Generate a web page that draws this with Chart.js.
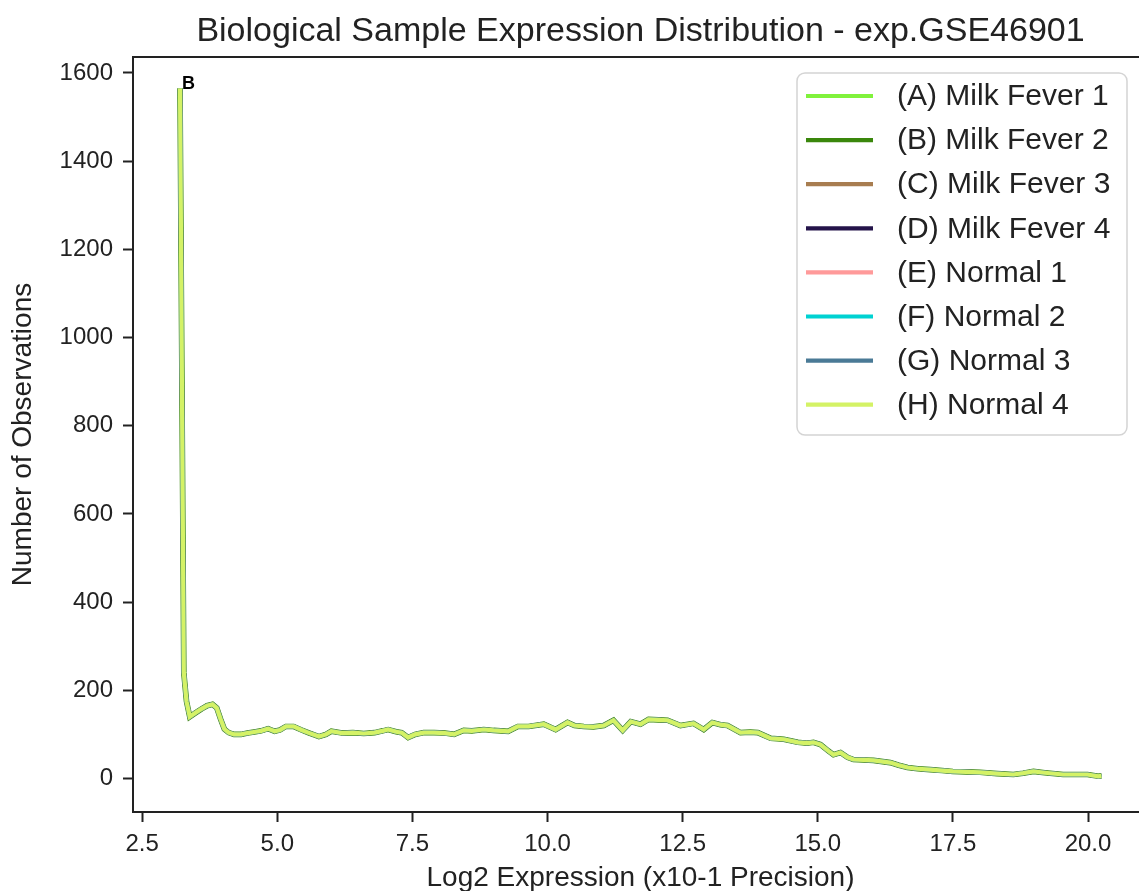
<!DOCTYPE html>
<html>
<head>
<meta charset="utf-8">
<script src="https://cdn.jsdelivr.net/npm/chart.js@4.4.1/dist/chart.umd.min.js"></script>
<style>
  html, body { margin: 0; padding: 0; background: #fff; overflow: hidden; }
  #wrap { width: 1150px; height: 891px; }
</style>
</head>
<body>
<div id="wrap"><canvas id="c" width="1150" height="891"></canvas></div>
<script>
// ---- data ----
const chartTitle = "Biological Sample Expression Distribution - exp.GSE46901";
const xAxisLabel = "Log2 Expression (x10-1 Precision)";
const yAxisLabel = "Number of Observations";

const seriesLabels = [
  "(A) Milk Fever 1", "(B) Milk Fever 2", "(C) Milk Fever 3", "(D) Milk Fever 4",
  "(E) Normal 1", "(F) Normal 2", "(G) Normal 3", "(H) Normal 4"
];
const seriesColors = [
  "#80f23c", "#3a870c", "#a87d50", "#24144a",
  "#ff9a9a", "#00d2d2", "#4a7a96", "#d4f266"
];

const xTickValues = [2.5, 5.0, 7.5, 10.0, 12.5, 15.0, 17.5, 20.0];
const yTickValues = [0, 200, 400, 600, 800, 1000, 1200, 1400, 1600];

// Log2 expression bins (x) and observation counts (y); all eight curves overlap in the picture
const expressionBins = [
  3.20, 3.27, 3.32, 3.38, 3.50, 3.60, 3.70, 3.80, 3.88, 3.95,
  4.02, 4.10, 4.20, 4.33, 4.45, 4.60, 4.70, 4.83, 4.95, 5.05,
  5.16, 5.30, 5.45, 5.57, 5.77, 5.90, 6.00, 6.20, 6.40, 6.60,
  6.80, 6.95, 7.05, 7.20, 7.30, 7.42, 7.55, 7.71, 7.90, 8.10,
  8.27, 8.45, 8.60, 8.82, 9.00, 9.27, 9.45, 9.65, 9.93, 10.15,
  10.37, 10.50, 10.67, 10.85, 11.04, 11.22, 11.39, 11.54, 11.72, 11.87,
  12.05, 12.22, 12.46, 12.70, 12.89, 13.05, 13.20, 13.33, 13.57, 13.75,
  13.89, 14.13, 14.37, 14.63, 14.80, 14.92, 15.05, 15.20, 15.29, 15.42,
  15.55, 15.66, 15.85, 16.03, 16.34, 16.50, 16.66, 16.85, 17.08, 17.30,
  17.50, 17.75, 18.00, 18.32, 18.62, 18.80, 18.99, 19.20, 19.54, 19.75,
  19.99, 20.19, 20.25
];
const observationCounts = [
  1565, 240, 175, 140, 150, 158, 165, 168, 160, 135,
  112, 104, 100, 100, 103, 106, 108, 113, 107, 110,
  118, 118, 110, 104, 95, 100, 107, 103, 104, 102,
  104, 108, 111, 106, 104, 93, 100, 104, 104, 103,
  100, 109, 108, 111, 109, 107, 118, 118, 123, 111,
  127, 120, 118, 117, 120, 132, 109, 129, 123, 134,
  133, 132, 120, 125, 111, 127, 122, 120, 104, 105,
  104, 91, 89, 82, 80, 82, 77, 62, 54, 59,
  48, 43, 42, 41, 36, 30, 25, 22, 20, 18,
  16, 15, 14, 11, 9, 12, 16, 13, 9, 9,
  9, 5, 6
];
const peakLetter = "B";

// ---- styling ----
const FONT = "'Liberation Sans', Arial, Helvetica, sans-serif";
const INK = "#222222";

const points = expressionBins.map((x, i) => ({ x: x, y: observationCounts[i] }));

const datasets = seriesLabels.map((label, i) => ({
  label: label,
  data: points,
  borderColor: seriesColors[i],
  backgroundColor: seriesColors[i],
  borderWidth: (i === 1) ? 5.6 : 4.2,
  pointRadius: 0,
  tension: 0,
  fill: false,
  order: seriesLabels.length - 1 - i
}));

const decorPlugin = {
  id: 'decor',
  afterDraw(chart) {
    const ctx = chart.ctx;
    const a = chart.chartArea;
    const xs = chart.scales.x, ys = chart.scales.y;
    ctx.save();
    // full frame (top and right spines)
    ctx.strokeStyle = INK;
    ctx.lineWidth = 2;
    ctx.strokeRect(a.left, a.top, a.right - a.left, a.bottom - a.top);

    // title
    ctx.fillStyle = INK;
    ctx.font = "34px " + FONT;
    ctx.textAlign = 'center';
    ctx.textBaseline = 'alphabetic';
    ctx.fillText(chartTitle, (a.left + a.right) / 2, 41);

    // peak annotation
    const px = xs.getPixelForValue(expressionBins[0]);
    const py = ys.getPixelForValue(observationCounts[0]);
    ctx.font = "bold 18px " + FONT;
    ctx.textAlign = 'left';
    ctx.fillStyle = '#000';
    ctx.fillText(peakLetter, px + 2, py + 1);

    // legend box (upper right, inside axes)
    const bx = 797, by = 73, bw = 330, bh = 362, r = 8;
    ctx.beginPath();
    ctx.moveTo(bx + r, by);
    ctx.arcTo(bx + bw, by, bx + bw, by + bh, r);
    ctx.arcTo(bx + bw, by + bh, bx, by + bh, r);
    ctx.arcTo(bx, by + bh, bx, by, r);
    ctx.arcTo(bx, by, bx + bw, by, r);
    ctx.closePath();
    ctx.fillStyle = 'rgba(255,255,255,0.85)';
    ctx.fill();
    ctx.strokeStyle = '#d4d4d4';
    ctx.lineWidth = 1.5;
    ctx.stroke();

    ctx.font = "30px " + FONT;
    ctx.textBaseline = 'middle';
    chart.data.datasets.forEach((ds, i) => {
      const yy = 96 + i * 44.1;
      ctx.strokeStyle = ds.borderColor;
      ctx.lineWidth = 4.2;
      ctx.beginPath();
      ctx.moveTo(806, yy);
      ctx.lineTo(873, yy);
      ctx.stroke();
      ctx.fillStyle = INK;
      ctx.fillText(ds.label, 897, yy + 1);
    });
    ctx.restore();
  }
};

new Chart(document.getElementById('c'), {
  type: 'line',
  data: { datasets: datasets },
  plugins: [decorPlugin],
  options: {
    responsive: false,
    animation: false,
    devicePixelRatio: 1,
    layout: { padding: { top: 57, right: 2, left: 0, bottom: 0 } },
    plugins: { legend: { display: false }, title: { display: false }, tooltip: { enabled: false } },
    scales: {
      x: {
        type: 'linear',
        min: 2.33,
        max: 21.11,
        afterFit: s => { s.height = 79; },
        afterBuildTicks: s => { s.ticks = xTickValues.map(v => ({ value: v })); },
        grid: { drawOnChartArea: false, drawTicks: true, tickLength: 10, tickWidth: 2, tickColor: INK },
        border: { display: true, color: INK, width: 2 },
        ticks: {
          color: INK, padding: 8, maxRotation: 0, autoSkip: false,
          font: { family: FONT, size: 24 },
          callback: v => Number(v).toFixed(1)
        },
        title: { display: true, text: xAxisLabel, color: INK, font: { family: FONT, size: 28 }, padding: { top: 0, bottom: -4 } }
      },
      y: {
        type: 'linear',
        min: -76,
        max: 1636,
        afterFit: s => { s.width = 133; },
        afterBuildTicks: s => { s.ticks = yTickValues.map(v => ({ value: v })); },
        grid: { drawOnChartArea: false, drawTicks: true, tickLength: 10, tickWidth: 2, tickColor: INK },
        border: { display: true, color: INK, width: 2 },
        ticks: {
          color: INK, padding: 10, autoSkip: false,
          font: { family: FONT, size: 24 },
          callback: v => String(v)
        },
        title: { display: true, text: yAxisLabel, color: INK, font: { family: FONT, size: 28 }, padding: { top: 6, bottom: 0 } }
      }
    }
  }
});
</script>
</body>
</html>
